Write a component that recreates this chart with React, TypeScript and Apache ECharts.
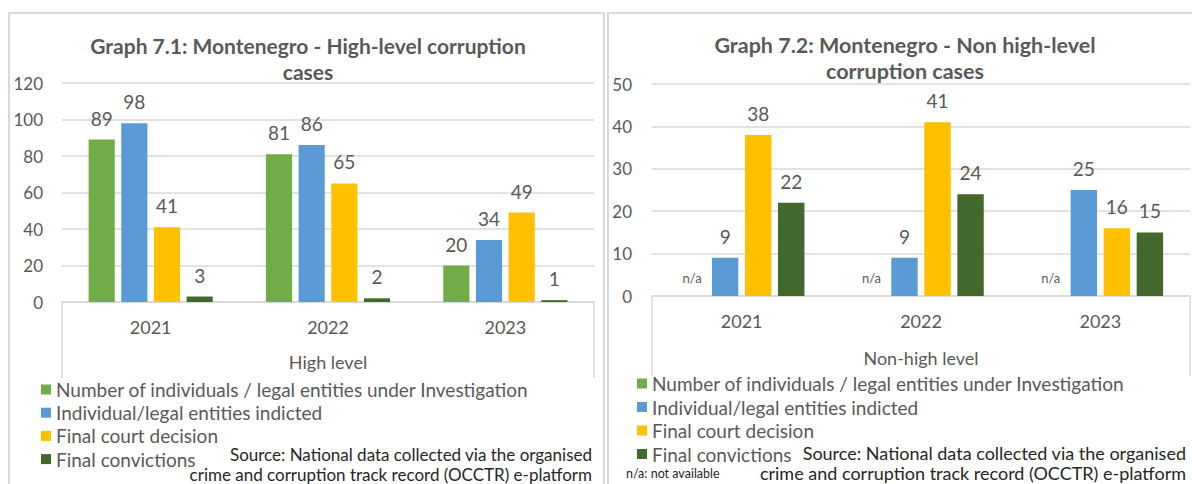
import React, { useEffect, useRef } from 'react';
import * as echarts from 'echarts';

// ---------- data ----------
const years = ['2021', '2022', '2023'];
const seriesNames = [
  'Number of individuals / legal entities under Investigation',
  'Individual/legal entities indicted',
  'Final court decision',
  'Final convictions',
];
const colors = ['#70AD47', '#5B9BD5', '#FFC000', '#43682B'];

const highInvestigation = [89, 81, 20];
const highIndicted = [98, 86, 34];
const highCourt = [41, 65, 49];
const highConvictions = [3, 2, 1];

// null = n/a (not available)
const nonInvestigation: (number | null)[] = [null, null, null];
const nonIndicted = [9, 9, 25];
const nonCourt = [38, 41, 16];
const nonConvictions = [22, 24, 15];

const highAxis = { min: 0, max: 120, interval: 20 };
const nonAxis = { min: 0, max: 50, interval: 10 };

const titleHigh = 'Graph 7.1: Montenegro - High-level corruption\ncases';
const titleNon = 'Graph 7.2: Montenegro - Non high-level\ncorruption cases';
const outerHigh = 'High level';
const outerNon = 'Non-high level';
const sourceText = 'Source: National data collected via the organised\ncrime and corruption track record (OCCTR) e-platform';
const naNote = 'n/a: not available';

// ---------- style ----------
const FONT = 'Lato, "Open Sans", sans-serif';
const TXT = '#595959';
const GRID_LINE = '#D9D9D9';

const G1 = { left: 62, right: 598, top: 83, bottom: 182 }; // x 62..594, y 83..302
const G2 = { left: 652, right: 2, top: 84, bottom: 188 }; // x 652..1190, y 84..296
const W = 1192;
const H = 484;

function makeBar(name: string, color: string, data: (number | null)[], axisIndex: number) {
  return {
    type: 'bar',
    name,
    xAxisIndex: axisIndex,
    yAxisIndex: axisIndex,
    barGap: '25%',
    barCategoryGap: '30%',
    itemStyle: { color },
    label: {
      show: true,
      position: 'top',
      distance: 12,
      color: TXT,
      fontFamily: FONT,
      fontSize: 19,
    },
    data: data.map((v) =>
      v === null
        ? { value: 0, label: { show: true, formatter: 'n/a', fontSize: 13, distance: 12 } }
        : v
    ),
  };
}

function xAxisFor(gridIndex: number, name: string, nameGap: number) {
  return {
    type: 'category',
    gridIndex,
    data: years,
    name,
    nameLocation: 'middle',
    nameGap,
    nameTextStyle: { color: TXT, fontFamily: FONT, fontSize: 18, verticalAlign: 'top' },
    axisLine: { show: true, lineStyle: { color: GRID_LINE, width: 1.5 } },
    axisTick: { show: false },
    axisLabel: { color: TXT, fontFamily: FONT, fontSize: 18, margin: 16 },
    splitLine: { show: false },
  };
}

function yAxisFor(gridIndex: number, ax: { min: number; max: number; interval: number }, margin: number) {
  return {
    type: 'value',
    gridIndex,
    min: ax.min,
    max: ax.max,
    interval: ax.interval,
    axisLine: { show: false },
    axisTick: { show: false },
    axisLabel: { color: TXT, fontFamily: FONT, fontSize: 17, margin },
    splitLine: { show: true, lineStyle: { color: GRID_LINE, width: 1.5 } },
  };
}

const titleStyle = (size: number) => ({
  fontFamily: FONT,
  fontSize: size,
  fontWeight: 'bold',
  color: TXT,
  lineHeight: 26,
});
const legendBase = {
  orient: 'vertical',
  padding: 0,
  itemWidth: 10,
  itemHeight: 10,
  icon: 'rect',
  selectedMode: false,
  data: seriesNames,
  textStyle: { color: TXT, fontFamily: FONT, fontSize: 19 },
};

export default function App() {
  const ref = useRef<HTMLDivElement>(null);

  useEffect(() => {
    if (!ref.current) return;
    const chart = echarts.init(ref.current, null, { renderer: 'svg' });

    const g1x0 = G1.left;
    const g1x1 = W - G1.right;
    const g1y = H - G1.bottom;
    const g2x0 = G2.left;
    const g2x1 = W - G2.right;
    const g2y = H - G2.bottom;

    const boxLine = (x: number, y0: number, y1: number) => ({
      type: 'line',
      shape: { x1: x, y1: y0, x2: x, y2: y1 },
      style: { stroke: GRID_LINE, lineWidth: 1.5 },
      silent: true,
    });

    chart.setOption({
      animation: false,
      backgroundColor: '#ffffff',
      title: [
        { text: titleHigh, left: 308, top: 32, padding: 0, textAlign: 'center', textStyle: titleStyle(21) },
        { text: titleNon, left: 905, top: 32, padding: 0, textAlign: 'center', textStyle: titleStyle(21.5) },
      ],
      grid: [
        { ...G1, containLabel: false },
        { ...G2, containLabel: false },
      ],
      legend: [
        { ...legendBase, left: 41, top: 380, itemGap: 4.2 },
        { ...legendBase, left: 637, top: 374, itemGap: 4.5 },
      ],
      xAxis: [xAxisFor(0, outerHigh, 51), xAxisFor(1, outerNon, 53)],
      yAxis: [yAxisFor(0, highAxis, 19), yAxisFor(1, nonAxis, 20)],
      series: [
        makeBar(seriesNames[0], colors[0], highInvestigation, 0),
        makeBar(seriesNames[1], colors[1], highIndicted, 0),
        makeBar(seriesNames[2], colors[2], highCourt, 0),
        makeBar(seriesNames[3], colors[3], highConvictions, 0),
        makeBar(seriesNames[0], colors[0], nonInvestigation, 1),
        makeBar(seriesNames[1], colors[1], nonIndicted, 1),
        makeBar(seriesNames[2], colors[2], nonCourt, 1),
        makeBar(seriesNames[3], colors[3], nonConvictions, 1),
      ],
      graphic: [
        // panel frames
        {
          type: 'rect',
          shape: { x: 9, y: 13, width: 595, height: 500 },
          style: { fill: 'none', stroke: GRID_LINE, lineWidth: 2 },
          silent: true,
          z: -10,
        },
        {
          type: 'rect',
          shape: { x: 608, y: 13, width: 600, height: 500 },
          style: { fill: 'none', stroke: GRID_LINE, lineWidth: 2 },
          silent: true,
          z: -10,
        },
        // multi-level category axis box sides
        boxLine(g1x0, g1y, g1y + 76),
        boxLine(g1x1, g1y, g1y + 76),
        boxLine(g2x0, g2y, g2y + 80),
        boxLine(g2x1, g2y, g2y + 80),
        // source notes
        {
          type: 'text',
          x: 592,
          y: 444,
          style: {
            text: sourceText,
            align: 'right',
            fill: '#262626',
            font: `17px ${FONT}`,
            lineHeight: 20,
          },
        },
        {
          type: 'text',
          x: 1186,
          y: 443,
          style: {
            text: sourceText,
            align: 'right',
            fill: '#262626',
            font: `18px ${FONT}`,
            lineHeight: 20,
          },
        },
        {
          type: 'text',
          x: 626,
          y: 467,
          style: { text: naNote, fill: '#262626', font: `12.5px ${FONT}` },
        },
      ],
    });

    return () => chart.dispose();
  }, []);

  return (
    <div
      ref={ref}
      style={{ position: 'fixed', left: 0, top: 0, width: W + 'px', height: H + 'px', background: '#fff' }}
    />
  );
}
